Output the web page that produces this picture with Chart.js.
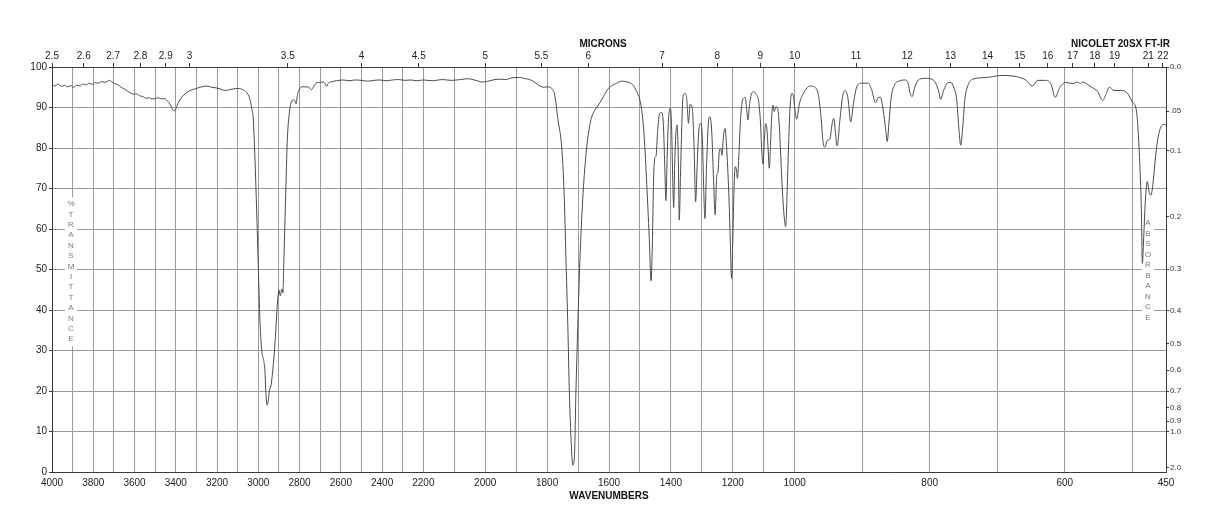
<!DOCTYPE html>
<html>
<head>
<meta charset="utf-8">
<title>IR spectrum</title>
<script src="https://cdn.jsdelivr.net/npm/chart.js@4.4.1/dist/chart.umd.min.js"></script>
<style>
  html, body { margin: 0; padding: 0; background: #fff; }
  #irChart { display: block; }
</style>
</head>
<body>
<canvas id="irChart" width="1218" height="528"></canvas>
<script>
// Spectrum: wavenumber (cm-1) and %T
const wavenumbers = [
  4000, 3985, 3970, 3955, 3940, 3925, 3910, 3895, 3880, 3865, 3850, 3835, 3820, 3805, 3790, 3775,
  3760, 3745, 3730, 3720, 3710, 3695, 3680, 3665, 3650, 3635, 3620, 3605, 3590, 3575, 3560, 3545,
  3530, 3515, 3500, 3485, 3470, 3455, 3440, 3428, 3418, 3410, 3402, 3395, 3385, 3370, 3350, 3330,
  3300, 3275, 3250, 3225, 3200, 3180, 3160, 3140, 3120, 3100, 3085, 3070, 3055, 3042, 3032, 3024,
  3016, 3008, 3000, 2992, 2983, 2975, 2968, 2963, 2957, 2952, 2947, 2938, 2930, 2919, 2906, 2900,
  2893, 2886, 2881, 2876, 2867, 2860, 2850, 2840, 2830, 2822, 2817, 2810, 2800, 2790, 2770, 2755,
  2742, 2730, 2717, 2700, 2685, 2675, 2669, 2662, 2650, 2620, 2588, 2560, 2530, 2500, 2470, 2440,
  2410, 2380, 2350, 2320, 2290, 2260, 2230, 2200, 2170, 2140, 2110, 2080, 2057, 2030, 2010, 1995,
  1975, 1955, 1935, 1915, 1900, 1888, 1870, 1856, 1840, 1823, 1810, 1800, 1785, 1775, 1765, 1753,
  1745, 1739, 1733, 1728, 1722, 1717, 1712, 1707, 1701, 1694, 1685, 1674, 1661, 1651, 1634, 1618,
  1602, 1575, 1560, 1546, 1530, 1520, 1508, 1500, 1493, 1486, 1478, 1470, 1464, 1460, 1456, 1452,
  1448, 1443, 1436, 1429, 1424, 1420, 1416, 1412, 1407, 1401, 1397, 1394, 1391, 1388, 1384, 1380,
  1376, 1373, 1369, 1365, 1361, 1355, 1349, 1343, 1338, 1331, 1325, 1320, 1315, 1309, 1303, 1298,
  1294, 1290, 1285, 1279, 1274, 1268, 1262, 1257, 1252, 1248, 1243, 1239, 1235, 1230, 1225, 1220,
  1213, 1208, 1204, 1200, 1196, 1192, 1188, 1185, 1181, 1175, 1168, 1160, 1155, 1151, 1146, 1139,
  1132, 1124, 1117, 1111, 1106, 1102, 1098, 1094, 1090, 1086, 1082, 1078, 1074, 1070, 1066, 1061,
  1055, 1050, 1045, 1040, 1035, 1029, 1024, 1020, 1015, 1009, 1004, 1000, 997, 993, 987, 977,
  970, 965, 961, 958, 955, 952, 948, 944, 942, 940, 937, 933, 929, 925, 921, 917,
  913, 908, 901, 891, 886, 880, 876, 873, 869, 865, 863, 860, 857, 852, 844, 837,
  832, 829, 826, 822, 815, 805, 795, 790, 786, 784, 779, 774, 769, 764, 760, 757,
  754, 751, 748, 743, 736, 716, 694, 671, 657, 648, 640, 628, 620, 614, 608, 599,
  588, 581, 577, 574, 561, 551, 544, 539, 534, 527, 517, 507, 500, 494, 490.5, 488,
  486.5, 485, 483, 480.6, 477.7, 474.7, 472.3, 469.4, 466, 462.5, 458.5, 453.6, 450
];
const transmittance = [
  95.6, 95.3, 95.8, 95.2, 95.5, 95.1, 95.4, 95.0, 95.5, 95.3, 95.8, 95.6, 96.0, 95.7, 96.1, 96.0,
  96.4, 96.2, 96.5, 96.7, 96.3, 95.9, 95.6, 95.0, 94.6, 94.1, 93.6, 93.3, 93.4, 92.9, 92.7, 92.3,
  92.4, 92.1, 92.2, 92.4, 92.1, 92.2, 91.6, 90.8, 89.8, 89.2, 89.4, 90.3, 91.5, 92.6, 93.6, 94.2,
  94.7, 95.1, 95.3, 95.0, 94.8, 94.5, 94.2, 94.4, 94.6, 94.7, 94.6, 94.3, 93.6, 92.3, 89.8, 86.9,
  77.0, 64.7, 50.7, 37.5, 29.8, 27.8, 25.0, 19.4, 16.5, 17.6, 19.8, 21.5, 25.0, 31.8, 42.5, 44.9,
  43.5, 45.2, 44.2, 52.3, 68.8, 81.2, 88.5, 91.4, 91.9, 91.6, 90.9, 93.2, 94.5, 95.1, 95.1, 95.0,
  94.4, 95.3, 96.1, 96.2, 96.3, 95.8, 95.2, 95.9, 96.3, 96.6, 96.8, 96.6, 96.8, 96.7, 96.5, 96.7,
  96.8, 96.6, 96.8, 96.9, 96.7, 96.8, 96.6, 96.8, 96.6, 96.9, 96.7, 96.9, 97.1, 96.7, 96.3, 96.4,
  96.8, 97.0, 96.9, 97.3, 97.4, 97.4, 97.1, 96.9, 96.2, 95.3, 95.0, 95.1, 94.7, 92.9, 87.0, 80.3,
  68.8, 52.3, 35.9, 19.4, 7.1, 1.7, 3.4, 19.4, 35.9, 52.3, 67.2, 78.7, 86.1, 88.6, 90.6, 92.7,
  94.7, 96.0, 96.5, 96.4, 96.0, 95.3, 93.5, 91.8, 88.5, 82.5, 71.0, 58.0, 47.2, 56.0, 72.0, 77.5,
  78.0, 84.0, 88.6, 88.8, 85.3, 76.0, 67.0, 78.0, 88.0, 89.8, 83.0, 72.0, 65.3, 75.0, 83.5, 85.7,
  77.5, 62.2, 73.0, 85.0, 92.6, 93.5, 92.3, 86.1, 90.8, 89.8, 80.0, 66.7, 76.0, 85.0, 86.1, 82.0,
  70.0, 62.6, 75.0, 86.0, 87.7, 84.0, 72.0, 63.5, 73.0, 74.0, 79.5, 79.8, 78.2, 83.0, 84.8, 80.3,
  69.0, 57.0, 47.8, 57.0, 70.0, 75.4, 74.5, 72.5, 77.0, 87.0, 91.9, 92.5, 89.5, 86.9, 90.5, 93.5,
  93.9, 93.2, 91.8, 87.0, 79.0, 76.0, 82.0, 86.0, 85.0, 80.0, 75.0, 81.0, 88.0, 90.6, 89.0, 90.2,
  89.8, 86.0, 78.0, 70.0, 64.0, 60.6, 70.0, 80.0, 90.0, 93.5, 92.8, 90.0, 87.1, 90.9, 93.5, 95.3,
  95.0, 93.2, 87.7, 81.5, 80.2, 81.8, 82.2, 86.5, 87.3, 84.4, 80.5, 86.9, 92.7, 94.2, 92.2, 86.5,
  90.9, 95.1, 96.0, 96.0, 94.4, 91.2, 92.5, 92.5, 89.4, 84.4, 81.6, 86.9, 92.5, 95.6, 96.6, 96.8,
  96.0, 93.5, 92.7, 95.1, 97.0, 97.2, 96.8, 95.6, 93.5, 92.0, 94.4, 96.0, 96.2, 94.8, 91.9, 85.3,
  80.7, 85.3, 91.9, 95.6, 97.0, 97.4, 97.9, 97.6, 96.7, 95.3, 96.7, 96.7, 95.6, 92.5, 94.7, 96.2,
  95.9, 96.3, 95.9, 96.3, 95.1, 93.9, 91.7, 93.2, 95.0, 94.2, 94.2, 93.5, 91.4, 89.4, 82.0, 72.5,
  64.7, 51.5, 58.0, 67.0, 71.7, 68.8, 68.4, 71.0, 77.0, 81.8, 84.8, 85.8, 85.7
];

// Bottom axis labels (cm-1), top axis ticks (microns), right axis ticks (absorbance)
const wavenumberLabels = [4000, 3800, 3600, 3400, 3200, 3000, 2800, 2600, 2400, 2200,
  2000, 1800, 1600, 1400, 1200, 1000, 800, 600, 450];
const micronTicks = [2.5, 2.6, 2.7, 2.8, 2.9, 3, 3.5, 4, 4.5, 5, 5.5, 6, 7, 8, 9, 10,
  11, 12, 13, 14, 15, 16, 17, 18, 19, 21, 22];
const absorbanceTicks = [0, 0.05, 0.1, 0.2, 0.3, 0.4, 0.5, 0.6, 0.7, 0.8, 0.9, 1.0, 2.0];
const absorbanceLabels = ['0.0', '.05', '0.1', '0.2', '0.3', '0.4', '0.5', '0.6', '0.7',
  '0.8', '0.9', '1.0', '2.0'];

// The wavenumber axis is split in three equal parts, each with its own scale
const axisBreaks = [4000, 2200, 1000, 450];

const wavePosition = w => {
  const n = axisBreaks.length - 1;
  for (let i = 0; i < n; i++) {
    const a = axisBreaks[i], b = axisBreaks[i + 1];
    if (w >= b || i === n - 1) return (i + (a - w) / (a - b)) / n;
  }
};

const positionToWave = f => {
  const n = axisBreaks.length - 1;
  const i = Math.min(n - 1, Math.max(0, Math.floor(f * n)));
  const a = axisBreaks[i], b = axisBreaks[i + 1];
  return a - (f * n - i) * (a - b);
};

class WaveScale extends Chart.LinearScale {
  getPixelForValue(value) {
    if (value === null || value === undefined || isNaN(value)) return NaN;
    return this.left + wavePosition(value) * this.width;
  }
  getValueForPixel(pixel) {
    return positionToWave((pixel - this.left) / this.width);
  }
}
WaveScale.id = 'wave';
WaveScale.defaults = Chart.LinearScale.defaults;
Chart.register(WaveScale);

// Gridlines every 100 cm-1
let waveGrid = [];
for (let w = 4000; w >= 500; w -= 100) waveGrid.push(w);
waveGrid.push(450);

const FONT = "'Liberation Sans', Arial, sans-serif";
const GRID = '#9a9a9a';
const FRAME = '#3a3a3a';

// Vertical stacked words and the titles
const drawColumn = (ctx, word, x, y0, step) => {
  const h = (word.length - 1) * step;
  ctx.fillStyle = '#fff';
  ctx.fillRect(x - 6, y0 - 7, 12, h + 14);
  ctx.fillStyle = '#7a7a7a';
  ctx.font = `8px ${FONT}`;
  ctx.textAlign = 'center';
  ctx.textBaseline = 'middle';
  [...word].forEach((ch, i) => ctx.fillText(ch, x, y0 + i * step));
};

const irLabels = {
  id: 'irLabels',
  beforeDatasetsDraw(chart) {
    const ctx = chart.ctx, area = chart.chartArea;
    ctx.save();
    drawColumn(ctx, '%TRANSMITTANCE', area.left + 19, 204, 10.4);
    drawColumn(ctx, 'ABSORBANCE', area.right - 18, 223, 10.5);
    ctx.restore();
  },
  afterDraw(chart) {
    const ctx = chart.ctx;
    ctx.save();
    ctx.fillStyle = '#111';
    ctx.font = `bold 10px ${FONT}`;
    ctx.textBaseline = 'middle';
    ctx.textAlign = 'center';
    ctx.fillText('MICRONS', 603, 44);
    ctx.fillText('WAVENUMBERS', 609, 496);
    ctx.textAlign = 'right';
    ctx.fillText('NICOLET 20SX FT-IR', 1170, 44);
    ctx.restore();
  }
};

const points = wavenumbers.map((w, i) => ({ x: w, y: transmittance[i] }));

new Chart('irChart', {
  type: 'line',
  data: {
    datasets: [{
      data: points,
      borderColor: '#4a4a4a',
      borderWidth: 1,
      pointRadius: 0,
      fill: false,
      cubicInterpolationMode: 'monotone'
    }]
  },
  options: {
    responsive: false,
    animation: false,
    devicePixelRatio: 1,
    layout: { padding: 0 },
    plugins: { legend: { display: false }, tooltip: { enabled: false } },
    scales: {
      x: {
        type: 'wave',
        position: 'bottom',
        min: 450,
        max: 4000,
        afterBuildTicks: s => { s.ticks = waveGrid.map(v => ({ value: v })); },
        afterFit: s => { s.height = 56; },
        grid: { color: GRID, drawTicks: false },
        border: { color: FRAME },
        ticks: {
          autoSkip: false,
          maxRotation: 0,
          padding: 5,
          color: '#222',
          font: { family: FONT, size: 10 },
          callback: v => wavenumberLabels.includes(v) ? String(v) : ''
        }
      },
      xTop: {
        type: 'wave',
        position: 'top',
        axis: 'x',
        min: 450,
        max: 4000,
        afterBuildTicks: s => { s.ticks = micronTicks.map(m => ({ value: 10000 / m })); },
        afterFit: s => { s.height = 67; },
        grid: { drawOnChartArea: false, drawTicks: true, tickLength: 4, tickColor: FRAME },
        border: { color: FRAME },
        ticks: {
          autoSkip: false,
          maxRotation: 0,
          padding: 1,
          color: '#222',
          font: { family: FONT, size: 10 },
          callback: (v, i) => String(micronTicks[i])
        }
      },
      y: {
        type: 'linear',
        position: 'left',
        min: 0,
        max: 100,
        afterFit: s => { s.width = 52; },
        grid: { color: GRID, drawTicks: true, tickLength: 3, tickColor: FRAME },
        border: { color: FRAME },
        ticks: {
          stepSize: 10,
          padding: 2,
          color: '#222',
          font: { family: FONT, size: 10 }
        }
      },
      y2: {
        type: 'linear',
        position: 'right',
        axis: 'y',
        min: 0,
        max: 100,
        afterBuildTicks: s => { s.ticks = absorbanceTicks.map(a => ({ value: 100 * Math.pow(10, -a) })); },
        afterFit: s => { s.width = 52; },
        grid: { drawOnChartArea: false, drawTicks: true, tickLength: 3, tickColor: FRAME },
        border: { color: FRAME },
        ticks: {
          autoSkip: false,
          padding: 1,
          color: '#333',
          font: { family: FONT, size: 8 },
          callback: (v, i) => absorbanceLabels[i]
        }
      }
    }
  },
  plugins: [irLabels]
});
</script>
</body>
</html>
